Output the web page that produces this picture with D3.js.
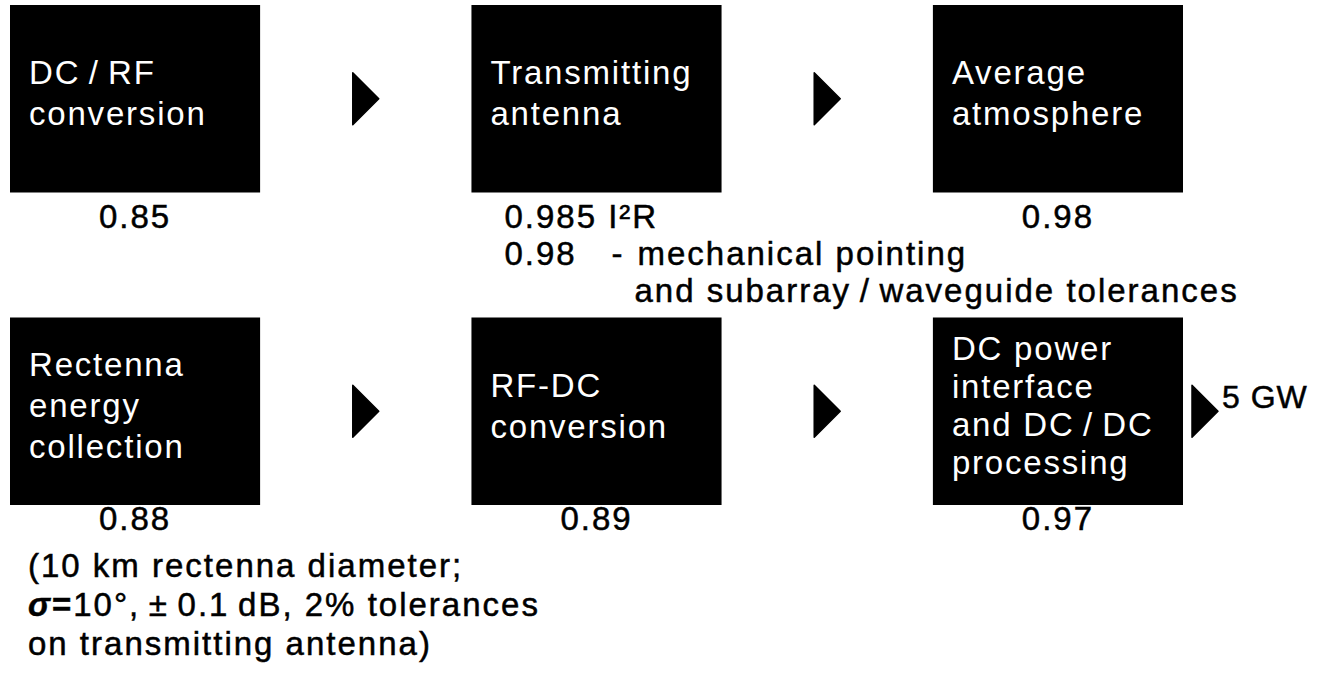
<!DOCTYPE html>
<html>
<head>
<meta charset="utf-8">
<script src="https://cdn.jsdelivr.net/npm/d3@7"></script>
<style>
  body { margin: 0; background: #fff; }
  text { font-family: "Liberation Sans", Arial, Helvetica, sans-serif; }
</style>
</head>
<body>
<div id="chart"></div>
<script>
// chain stages, read left to right, top row then bottom row
const stageLines = [
  ["DC\u2009/\u2009RF", "conversion"],
  ["Transmitting", "antenna"],
  ["Average", "atmosphere"],
  ["Rectenna", "energy", "collection"],
  ["RF-DC", "conversion"],
  ["DC power", "interface", "and DC\u2009/\u2009DC", "processing"]
];
const efficiencies = ["0.85", "0.985 I\u00B2R", "0.98", "0.88", "0.89", "0.97"];
const antennaNotes = ["0.98", "-", "mechanical pointing", "and subarray\u2009/\u2009waveguide tolerances"];
const rectennaNotes = ["(10 km rectenna diameter;", "10°,\u2009±\u20090.1\u2009dB, 2% tolerances", "on transmitting antenna)"];
const outputLabel = "5 GW";

const width = 1325, height = 678;

const svg = d3.select("#chart").append("svg")
  .attr("width", width)
  .attr("height", height)
  .style("display", "block");

svg.append("rect").attr("width", width).attr("height", height).attr("fill", "#fff");

const x = d3.scaleBand().domain([0, 1, 2]).range([10, 1183]).paddingInner(0.458).paddingOuter(0);
const y = d3.scaleBand().domain([0, 1]).range([5, 505]).paddingInner(0.4).paddingOuter(0);

const stages = stageLines.map((lines, i) => ({lines, eff: efficiencies[i], col: i % 3, row: Math.floor(i / 3), i}));

// boxes
const box = svg.append("g")
  .selectAll("g")
  .data(stages)
  .join("g");

box.append("rect")
  .attr("x", d => x(d.col))
  .attr("y", d => y(d.row))
  .attr("width", x.bandwidth())
  .attr("height", y.bandwidth())
  .attr("fill", "#000");

box.append("text")
  .attr("fill", "#fff")
  .style("font-size", "33px")
  .style("letter-spacing", "1.8px")
  .each(function(d) {
    const lh = d.lines.length > 3 ? 38 : 41;
    const cy = y(d.row) + y.bandwidth() / 2;
    const y0 = cy - (d.lines.length - 1) * lh / 2 + 6;
    d3.select(this).selectAll("tspan")
      .data(d.lines)
      .join("tspan")
        .attr("x", x(d.col) + 19)
        .attr("y", (l, k) => y0 + k * lh)
        .text(l => l);
  });

// arrows between boxes and the output arrow
const arrow = (cx, cy) => `M${cx - 13},${cy - 26}L${cx + 13},${cy}L${cx - 13},${cy + 26}Z`;
const arrows = [];
[0, 1].forEach(r => {
  [0, 1].forEach(c => arrows.push({cx: (x(c) + x.bandwidth() + x(c + 1)) / 2, cy: y(r) + y.bandwidth() / 2}));
});
const outCx = x(2) + x.bandwidth() + 22, outCy = y(1) + y.bandwidth() / 2;
arrows.push({cx: outCx, cy: outCy});

svg.append("g")
  .selectAll("path")
  .data(arrows)
  .join("path")
    .attr("d", d => arrow(d.cx, d.cy))
    .attr("fill", "#000")
    .attr("stroke", "#000")
    .attr("stroke-linejoin", "round")
    .attr("stroke-width", 1.5);

// outside text is a touch heavier than the regular face
const g = svg.append("g")
  .style("font-size", "33px")
  .style("letter-spacing", "2px")
  .attr("stroke", "#000")
  .attr("stroke-width", 0.5);

g.append("text")
  .attr("x", outCx + 17)
  .attr("y", outCy - 3)
  .style("font-size", "32px")
  .style("letter-spacing", "1px")
  .text(outputLabel);

// efficiency values under the boxes
const effOffset = [35, 25];

g.selectAll("text.eff")
  .data(stages)
  .join("text")
    .attr("class", "eff")
    .attr("x", d => d.i === 1 ? x(d.col) + 33 : x(d.col) + x.bandwidth() / 2)
    .attr("y", d => y(d.row) + y.bandwidth() + effOffset[d.row])
    .attr("text-anchor", d => d.i === 1 ? "start" : "middle")
    .text(d => d.eff);

// transmitting antenna notes
const ax = x(1) + 33, ay = y(0) + y.bandwidth() + effOffset[0];
const t1 = g.append("text").attr("y", ay + 37);
t1.append("tspan").attr("x", ax).text(antennaNotes[0]);
t1.append("tspan").attr("x", ax + 107).text(antennaNotes[1]);
t1.append("tspan").attr("x", ax + 133).text(antennaNotes[2]);
g.append("text").attr("x", ax + 130).attr("y", ay + 74).text(antennaNotes[3]);

// rectenna notes
const rx = 28, ry = y(1) + y.bandwidth() + effOffset[1];
g.append("text").attr("x", rx).attr("y", ry + 47).text(rectennaNotes[0]);
const t2 = g.append("text").attr("x", rx).attr("y", ry + 86);
t2.append("tspan").style("font-weight", "bold").style("font-style", "italic").text("σ");
t2.append("tspan").style("font-weight", "bold").text("=");
t2.append("tspan").text(rectennaNotes[1]);
g.append("text").attr("x", rx).attr("y", ry + 125).text(rectennaNotes[2]);
</script>
</body>
</html>
